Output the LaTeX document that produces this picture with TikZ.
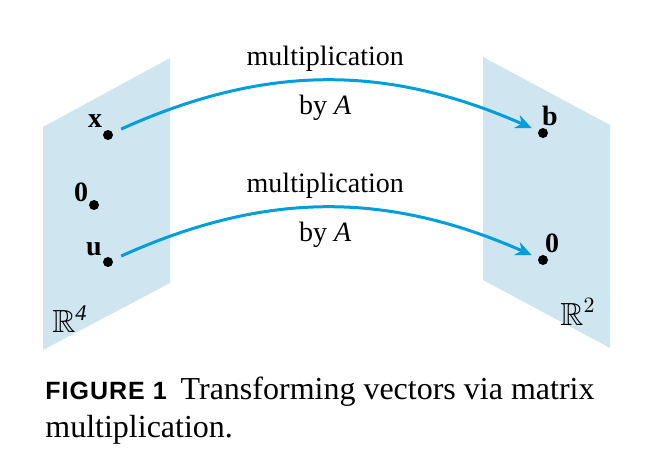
\documentclass[tikz,border=0pt]{standalone}
\usepackage{amssymb}
\usepackage{fontspec}
\setmainfont{Liberation Serif}
\setsansfont{Liberation Sans}
\usetikzlibrary{arrows.meta,positioning}

\definecolor{planeblue}{RGB}{207,229,240}
\definecolor{mapblue}{RGB}{0,158,219}

\begin{document}
\begin{tikzpicture}[x=0.5pt, y=-0.5pt,
    dot/.style={circle, fill=black, inner sep=0pt, minimum size=5pt},
    vec/.style={font=\fontsize{14}{16}\selectfont\bfseries, inner sep=0pt},
    txt/.style={font=\fontsize{14}{16}\selectfont, text=black, inner sep=2pt},
    mapto/.style={mapblue, line width=1.5pt, -{Stealth[length=8pt, width=7pt]},
      shorten <=4.5pt, shorten >=3.5pt, bend left=24}]
  \useasboundingbox (0,0) rectangle (664,456);
  % planes R^4 and R^2
  \fill[planeblue] (43,127) -- (170,58) -- (170,283) -- (43,350) -- cycle;
  \fill[planeblue] (483,57) -- (610,125) -- (610,348) -- (483,280) -- cycle;
  \node[txt] (rfour) at (70,319) {\fontsize{16}{18}\selectfont$\mathbb{R}^{\mathit{4}}$};
  \node[txt] (rtwo) at (578,312) {\fontsize{16}{18}\selectfont$\mathbb{R}^2$};

  % points
  \node[dot] (x)  at (108,135) {};
  \node[dot] (z1) at (94,205)  {};
  \node[dot] (u)  at (108,262) {};
  \node[dot] (b)  at (543,133) {};
  \node[dot] (z2) at (543,260) {};
  \node[vec] (xl)  at (95,121)  {x};
  \node[vec] (z1l) at (81,192)  {0};
  \node[vec] (ul)  at (94,249)  {u};
  \node[vec] (bl)  at (550,116) {b};
  \node[vec] (z2l) at (552,243) {0};

  % maps
  \draw[mapto] (x) to node[txt, above=2pt] (m1) {multiplication}
    node[txt, below=4.5pt] (a1) {by \textit{A}} (b);
  \draw[mapto] (u) to node[txt, above=2pt] (m2) {multiplication}
    node[txt, below=4.5pt] (a2) {by \textit{A}} (z2);

  % caption (base anchor sits on the last line)
  \node[anchor=base west, align=left, inner sep=0pt,
    font=\fontsize{16}{19}\selectfont] (cap) at (45,437)
    {{\sffamily\bfseries\fontsize{12.5}{14}\selectfont\addfontfeature{LetterSpace=4}FIGURE 1}\hspace{7pt}Transforming vectors via matrix\\
     multiplication.};
\end{tikzpicture}
\end{document}
